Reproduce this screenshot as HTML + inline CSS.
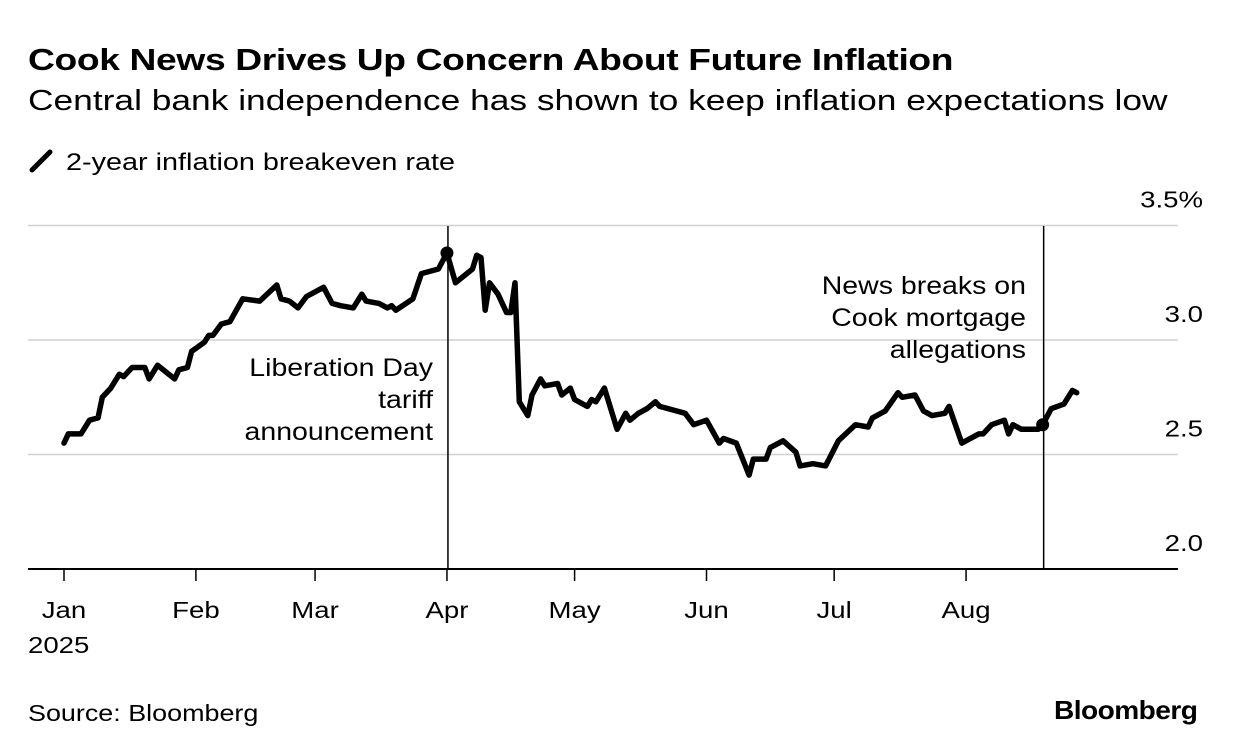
<!DOCTYPE html>
<html><head><meta charset="utf-8"><style>
body{margin:0;background:#fff;font-family:"Liberation Sans",Arial,sans-serif;color:#000}
#wrap{position:relative;width:1233px;height:754px;overflow:hidden}
.t{position:absolute;white-space:nowrap;transform-origin:0 0}
</style></head><body>
<div id="wrap">
<div class="t" style="left:28px;top:42px;font-size:31px;font-weight:bold;letter-spacing:-0.3px;transform:scaleX(1.2)">Cook News Drives Up Concern About Future Inflation</div>
<div class="t" style="left:28px;top:85px;font-size:28.5px;transform:scaleX(1.24)">Central bank independence has shown to keep inflation expectations low</div>
<div class="t" style="left:28px;top:148px;font-size:24px"><svg width="26" height="26" style="vertical-align:-4px;margin-right:12px"><line x1="4" y1="22" x2="22" y2="4" stroke="#000" stroke-width="5" stroke-linecap="round"/></svg><span style="display:inline-block;transform:scaleX(1.2);transform-origin:0 0">2-year inflation breakeven rate</span></div>
<svg id="chart" width="1233" height="754" style="position:absolute;left:0;top:0"></svg>
<div class="t" style="left:28px;top:700px;font-size:23px;transform:scaleX(1.17)">Source: Bloomberg</div>
<div class="t" style="left:1054px;top:695px;font-size:26px;font-weight:bold;letter-spacing:-0.5px;transform:scaleX(1.08)">Bloomberg</div>
</div>
<script>
const days=[0,1,4,6,8,9,11,13,14,16,19,20,22,24,26,27,29,30,33,34,35,37,39,42,46,50,51,53,55,57,61,63,65,68,70,71,74,76,77,78,82,84,88,90,92,96,97,98,99,100,102,104,105,106,107,109,110,112,113,116,117,119,120,123,124,125,127,130,132,133,135,137,139,140,146,148,151,154,155,158,161,162,165,166,169,172,173,176,179,182,186,189,190,193,196,197,200,202,204,207,208,211,215,216,218,221,222,223,225,229,230,232,235,237,238];
const values=[2.55,2.59,2.59,2.65,2.66,2.75,2.79,2.85,2.84,2.88,2.88,2.83,2.89,2.86,2.83,2.87,2.88,2.95,2.99,3.02,3.02,3.07,3.08,3.18,3.17,3.24,3.18,3.17,3.14,3.19,3.23,3.16,3.15,3.14,3.20,3.17,3.16,3.14,3.15,3.13,3.18,3.29,3.31,3.38,3.25,3.31,3.37,3.36,3.13,3.25,3.20,3.12,3.12,3.25,2.73,2.67,2.76,2.83,2.80,2.81,2.76,2.79,2.74,2.71,2.74,2.73,2.79,2.61,2.68,2.65,2.68,2.70,2.73,2.71,2.68,2.63,2.65,2.55,2.57,2.55,2.41,2.48,2.48,2.53,2.56,2.51,2.45,2.46,2.45,2.56,2.63,2.62,2.66,2.69,2.77,2.75,2.76,2.69,2.67,2.68,2.71,2.55,2.59,2.59,2.63,2.65,2.59,2.63,2.61,2.61,2.63,2.70,2.72,2.78,2.77];
const yTicks=[2.0,2.5,3.0,3.5];
const yTickLabels=["2.0","2.5","3.0","3.5%"];
const monthDays=[0,31,59,90,120,151,181,212];
const monthLabels=["Jan","Feb","Mar","Apr","May","Jun","Jul","Aug"];
const eventDays=[90,230];

const NS="http://www.w3.org/2000/svg";
const svg=document.getElementById('chart');
const X=d=>64+d*4.255;
const Y=v=>569-(v-2)*229;
const SX=1.2;
function mk(tag,attrs){const e=document.createElementNS(NS,tag);for(const k in attrs)e.setAttribute(k,attrs[k]);svg.appendChild(e);return e;}
function txt(s,x,y,anchor,size,sx){
  const t=mk('text',{x:0,y:0,'text-anchor':anchor,'font-size':size,'font-family':'Liberation Sans, sans-serif',transform:'translate('+x+','+y+') scale('+sx+',1)'});
  t.textContent=s;return t;
}
yTicks.forEach((t,i)=>{
  if(i>0){const g=mk('line',{x1:28,x2:1178,y1:Y(t),y2:Y(t),stroke:'#d0d0d0','stroke-width':1.5});
  
  }
  const l=txt(yTickLabels[i],1203,Y(t)-18,'end',23,SX);
  
  
});
const ax=mk('line',{x1:28,x2:1178,y1:Y(2),y2:Y(2),stroke:'#000','stroke-width':2});


monthDays.forEach((d,i)=>{
  const tk=mk('line',{x1:X(d),x2:X(d),y1:Y(2),y2:Y(2)+12,stroke:'#000','stroke-width':1.5});
  
  
  const l=txt(monthLabels[i],X(d),618,'middle',23,SX);
  
  
});
const yr=txt('2025',28,653,'start',23,SX);


eventDays.forEach(d=>{
  const v=mk('line',{x1:X(d)+1,x2:X(d)+1,y1:226,y2:Y(2),stroke:'#000','stroke-width':1.5});
  
  
});
const pts=days.map((d,i)=>X(d).toFixed(1)+','+Y(values[i]).toFixed(1)).join(' ');
const pl=mk('polyline',{points:pts,fill:'none',stroke:'#000','stroke-width':5.5,'stroke-linejoin':'round','stroke-linecap':'round'});


eventDays.forEach(d=>{
  const i=days.indexOf(d);
  const c=mk('circle',{cx:X(d),cy:Y(values[i]),r:6.5,fill:'#000'});
  
  
});
function ann(lines,xr,y0,name){
  lines.forEach((s,i)=>{
    const t=txt(s,xr,y0+i*32,'end',25,1.14);
    
    
  });
}
ann(["Liberation Day","tariff","announcement"],433,376,'liberation-day-annotation');
ann(["News breaks on","Cook mortgage","allegations"],1026,294,'cook-news-annotation');
</script>
</body></html>
